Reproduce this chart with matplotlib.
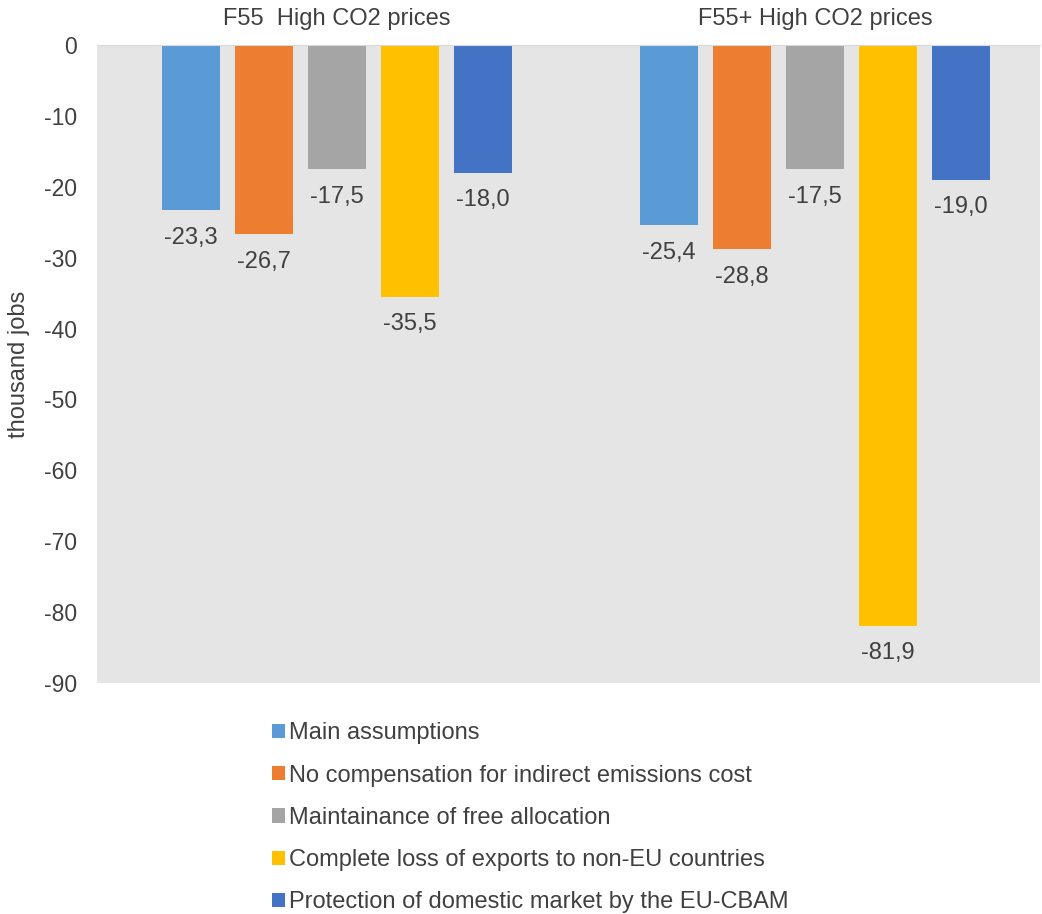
import matplotlib.pyplot as plt
from matplotlib.patches import Patch

plt.rcParams['font.family'] = ['Liberation Sans', 'DejaVu Sans']

# Scenario groups and series
groups = ["F55  High CO2 prices", "F55+ High CO2 prices"]
series = [
    "Main assumptions",
    "No compensation for indirect emissions cost",
    "Maintainance of free allocation",
    "Complete loss of exports to non-EU countries",
    "Protection of domestic market by the EU-CBAM",
]
values = [
    [-23.3, -25.4],
    [-26.7, -28.8],
    [-17.5, -17.5],
    [-35.5, -81.9],
    [-18.0, -19.0],
]
colors = ["#5b9bd5", "#ed7d31", "#a5a5a5", "#ffc000", "#4472c4"]
yticks = [0, -10, -20, -30, -40, -50, -60, -70, -80, -90]

text_color = "#404040"

fig = plt.figure(figsize=(10.42, 9.14), dpi=100)
ax = fig.add_axes([97 / 1042, 1 - 683 / 914, (1040 - 97) / 1042, (683 - 45) / 914])
ax.set_facecolor("#e5e5e5")

width = 0.121
step = 0.153
for i, (name, vals, c) in enumerate(zip(series, values, colors)):
    offset = (i - 2) * step
    xs = [g + offset for g in range(len(groups))]
    ax.bar(xs, vals, width=width, color=c, label=name, zorder=2)
    for x, v in zip(xs, vals):
        ax.annotate(f"{v:.1f}".replace(".", ","), (x, v), xytext=(0, -12),
                    textcoords="offset points", ha="center", va="top",
                    fontsize=17, color=text_color)

ax.set_xlim(-0.502, 1.471)
ax.set_ylim(-90, 0)
ax.set_yticks(yticks)
ax.set_yticklabels([str(t) for t in yticks])
ax.tick_params(axis="y", length=0, pad=14.5, labelsize=16.5, labelcolor=text_color)
ax.set_xticks([])
for side in ["left", "right", "bottom"]:
    ax.spines[side].set_visible(False)
ax.spines["top"].set_color("#d9d9d9")
ax.set_ylabel("thousand jobs", fontsize=17, color=text_color, labelpad=10)

# scenario names above each group
for g, name in enumerate(groups):
    ax.text(g, 1.0 + 15 / 638, name, transform=ax.get_xaxis_transform(), ha="center",
            va="bottom", fontsize=17, color=text_color)

handles = [Patch(facecolor=c, edgecolor="none") for c in colors]
fig.legend(handles, series, loc="upper left", bbox_to_anchor=(251 / 1042, 1 - 701 / 914),
           frameon=False, fontsize=17, handlelength=0.55, handleheight=0.55,
           handletextpad=0.15, labelspacing=0.86, labelcolor=text_color)

fig.savefig("out.png", dpi=100)
